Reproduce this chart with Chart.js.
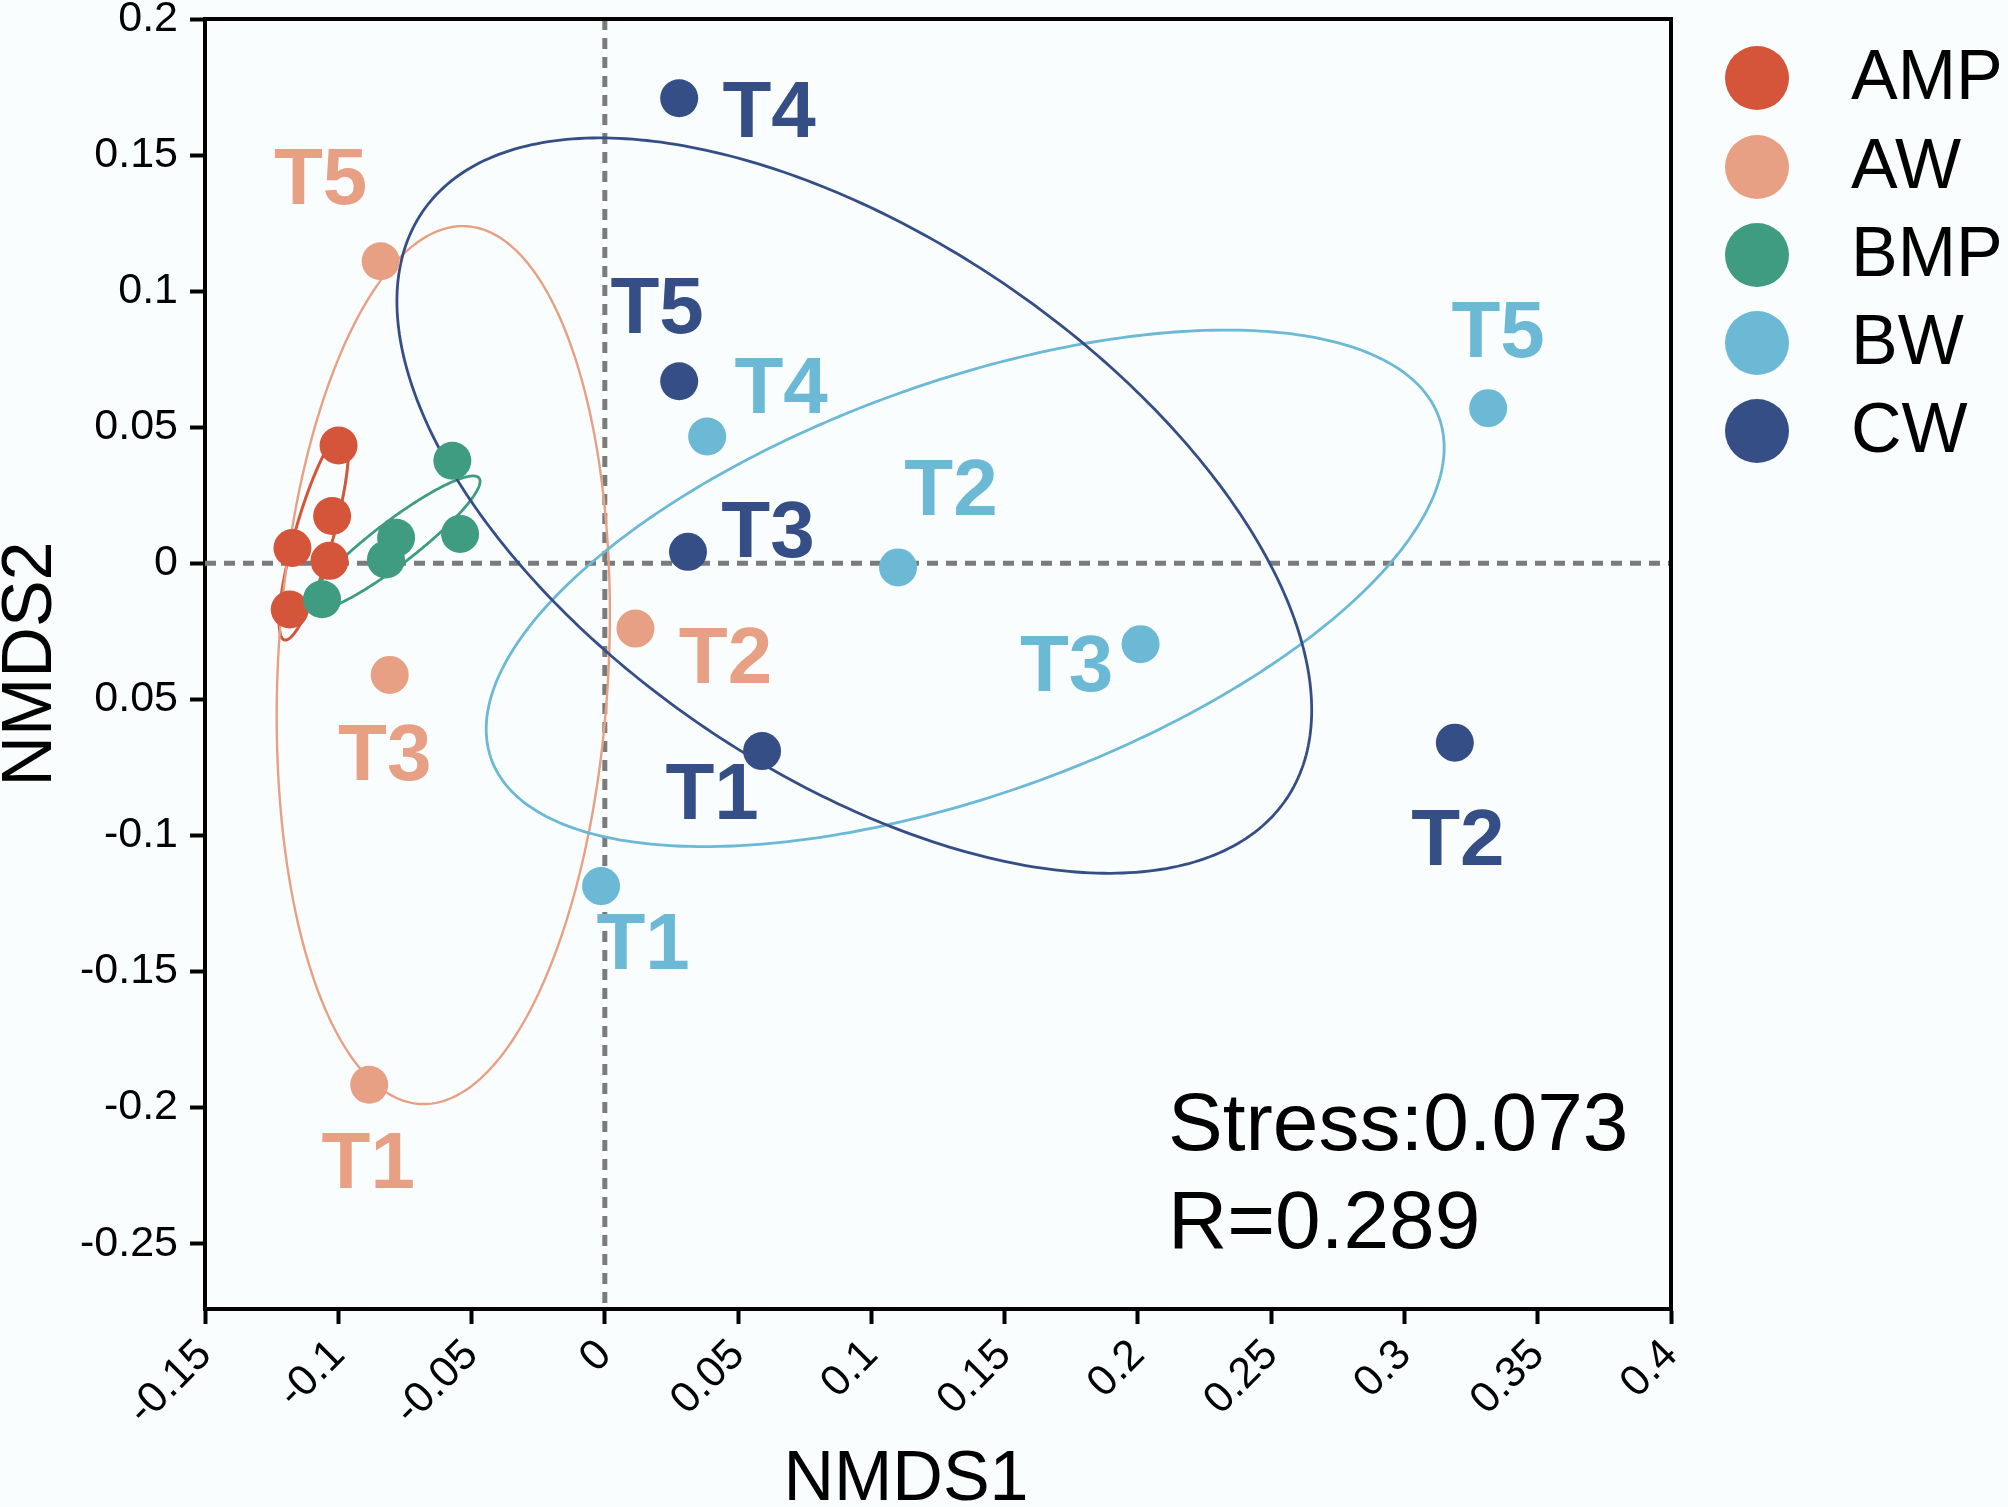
<!DOCTYPE html>
<html>
<head>
<meta charset="utf-8">
<script src="https://cdn.jsdelivr.net/npm/chart.js@4.4.0/dist/chart.umd.min.js"></script>
<style>
html, body { margin: 0; padding: 0; background: #F9FDFE; }
#wrap { width: 2008px; height: 1507px; }
</style>
</head>
<body>
<div id="wrap"><canvas id="nmds" width="2008" height="1507"></canvas></div>
<script>
// groups + colours
var groups = ['AMP', 'AW', 'BMP', 'BW', 'CW'];
var groupColors = ['#D4553A', '#E8A084', '#409C80', '#6CB9D5', '#354E85'];

// sample scores (NMDS1 / NMDS2)
var ampX = [-0.0999, -0.1023, -0.1172, -0.1033, -0.1182];
var ampY = [0.0433, 0.0174, 0.0056, 0.0009, -0.0170];
var ampLabels = ['', '', '', '', ''];

var awX = [-0.0884, 0.0115, -0.0807, -0.0841];
var awY = [-0.1916, -0.0240, -0.0410, 0.1110];
var awLabels = ['T1', 'T2', 'T3', 'T5'];

var bmpX = [-0.0572, -0.0783, -0.0821, -0.0543, -0.1061];
var bmpY = [0.0377, 0.0094, 0.0014, 0.0108, -0.0132];
var bmpLabels = ['', '', '', '', ''];

var bwX = [-0.0014, 0.1100, 0.2010, 0.0384, 0.3314];
var bwY = [-0.1186, -0.0015, -0.0297, 0.0466, 0.0570];
var bwLabels = ['T1', 'T2', 'T3', 'T4', 'T5'];

var cwX = [0.0590, 0.3189, 0.0312, 0.0279, 0.0279];
var cwY = [-0.0690, -0.0659, 0.0042, 0.1709, 0.0669];
var cwLabels = ['T1', 'T2', 'T3', 'T4', 'T5'];

// confidence ellipses per group: centre, spread and correlation (data units)
var ellipseCx = [-0.1092, -0.0606, -0.0794, 0.1352, 0.0936];
var ellipseCy = [0.0099, -0.0374, 0.0071, -0.0092, 0.0212];
var ellipseSx = [0.0130, 0.0625, 0.0326, 0.1797, 0.1716];
var ellipseSy = [0.0381, 0.1613, 0.0250, 0.0949, 0.1351];
var ellipseRho = [0.818, 0.117, 0.920, 0.545, -0.556];

// ticks
var xTickLabels = ['-0.15', '-0.1', '-0.05', '0', '0.05', '0.1', '0.15', '0.2', '0.25', '0.3', '0.35', '0.4'];
var yTickLabels = ['-0.25', '-0.2', '-0.15', '-0.1', '0.05', '0', '0.05', '0.1', '0.15', '0.2'];

var statLines = ['Stress:0.073', 'R=0.289'];

// label offsets from the point (px), style only
var labelOffsets = {
    AW: [[-1, 81], [90, 32], [-5, 83], [-60, -79]],
    BW: [[42, 61], [53, -74], [-74, 25], [74, -46], [10, -73]],
    CW: [[-50, 46], [3, 100], [80, -17], [90, 17], [-22, -70]]
};

var allX = [ampX, awX, bmpX, bwX, cwX];
var allY = [ampY, awY, bmpY, bwY, cwY];
var allLabels = [ampLabels, awLabels, bmpLabels, bwLabels, cwLabels];

var FONT = '"Liberation Sans", Arial, Helvetica, sans-serif';

var datasets = [];
for (var g = 0; g < groups.length; g++) {
    var pts = [];
    for (var i = 0; i < allX[g].length; i++) {
        pts.push({x: allX[g][i], y: allY[g][i]});
    }
    datasets.push({
        label: groups[g],
        data: pts,
        backgroundColor: groupColors[g],
        borderWidth: 0,
        pointRadius: 19,
        pointHoverRadius: 19,
        order: groups.length - g
    });
}

var nmdsPlugin = {
    id: 'nmdsExtras',
    beforeDatasetsDraw: function(chart) {
        var ctx = chart.ctx, a = chart.chartArea;
        var xs = chart.scales.x, ys = chart.scales.y;
        ctx.save();
        // zero lines
        ctx.strokeStyle = '#7b7b7b';
        ctx.lineWidth = 5;
        ctx.setLineDash([11, 8]);
        var x0 = xs.getPixelForValue(0), y0 = ys.getPixelForValue(0);
        ctx.beginPath();
        ctx.moveTo(x0, a.top); ctx.lineTo(x0, a.bottom);
        ctx.moveTo(a.left, y0); ctx.lineTo(a.right, y0);
        ctx.stroke();
        ctx.setLineDash([]);

        // ellipses
        var widths = [3, 2.4, 2.8, 2.8, 2.8];
        for (var g = 0; g < groups.length; g++) {
            var cx = ellipseCx[g], cy = ellipseCy[g];
            var sx = ellipseSx[g], sy = ellipseSy[g], r = ellipseRho[g];
            var q = Math.sqrt(1 - r * r);
            ctx.beginPath();
            for (var k = 0; k <= 360; k++) {
                var t = k * Math.PI / 180;
                var vx = cx + sx * Math.cos(t);
                var vy = cy + sy * (r * Math.cos(t) + q * Math.sin(t));
                var px = xs.getPixelForValue(vx), py = ys.getPixelForValue(vy);
                if (k === 0) ctx.moveTo(px, py); else ctx.lineTo(px, py);
            }
            ctx.closePath();
            ctx.strokeStyle = groupColors[g];
            ctx.lineWidth = widths[g];
            ctx.stroke();
        }
        ctx.restore();
    },
    afterDatasetsDraw: function(chart) {
        var ctx = chart.ctx, a = chart.chartArea;
        var xs = chart.scales.x, ys = chart.scales.y;
        ctx.save();

        // point labels
        ctx.font = 'bold 80px ' + FONT;
        ctx.textAlign = 'center';
        ctx.textBaseline = 'middle';
        for (var g = 0; g < groups.length; g++) {
            var offs = labelOffsets[groups[g]];
            if (!offs) continue;
            ctx.fillStyle = groupColors[g];
            for (var i = 0; i < allX[g].length; i++) {
                if (!allLabels[g][i]) continue;
                var px = xs.getPixelForValue(allX[g][i]);
                var py = ys.getPixelForValue(allY[g][i]);
                ctx.fillText(allLabels[g][i], px + offs[i][0], py + offs[i][1]);
            }
        }

        // top + right frame
        ctx.strokeStyle = '#000';
        ctx.lineWidth = 4;
        ctx.beginPath();
        ctx.moveTo(a.left - 2, a.top);
        ctx.lineTo(a.right, a.top);
        ctx.lineTo(a.right, a.bottom + 2);
        ctx.stroke();

        // stats text
        ctx.fillStyle = '#000';
        ctx.font = '82px ' + FONT;
        ctx.textAlign = 'left';
        ctx.textBaseline = 'alphabetic';
        ctx.fillText(statLines[0], 1168, 1150);
        ctx.fillText(statLines[1], 1168, 1248);

        // axis titles
        ctx.font = '70px ' + FONT;
        ctx.textAlign = 'center';
        ctx.textBaseline = 'middle';
        ctx.fillText('NMDS1', 906, 1481);
        ctx.save();
        ctx.translate(32, (a.top + a.bottom) / 2);
        ctx.rotate(-Math.PI / 2);
        ctx.fillText('NMDS2', 0, 0);
        ctx.restore();

        // legend
        ctx.font = '70px ' + FONT;
        ctx.textAlign = 'left';
        var legY = [78, 167, 255, 343, 431];
        for (var g = 0; g < groups.length; g++) {
            ctx.beginPath();
            ctx.arc(1757, legY[g], 32, 0, Math.PI * 2);
            ctx.fillStyle = groupColors[g];
            ctx.fill();
            ctx.fillStyle = '#000';
            ctx.fillText(groups[g], 1851, legY[g] + 2);
        }
        ctx.restore();
    }
};

var ctx = document.getElementById('nmds').getContext('2d');
var nmdsChart = new Chart(ctx, {
    type: 'scatter',
    data: {datasets: datasets},
    options: {
        responsive: false,
        animation: false,
        devicePixelRatio: 1,
        layout: {padding: {left: 0, top: 19, right: 337, bottom: 0}},
        plugins: {
            legend: {display: false},
            tooltip: {enabled: false}
        },
        scales: {
            x: {
                type: 'linear',
                min: -0.15,
                max: 0.4,
                afterFit: function(scale) {
                    scale.height = 198;
                    scale.paddingLeft = 0;
                    scale.paddingRight = 0;
                },
                border: {display: true, width: 4, color: '#000'},
                grid: {display: true, drawOnChartArea: false, drawTicks: true, tickLength: 15, tickWidth: 4, tickColor: '#000'},
                ticks: {
                    stepSize: 0.05,
                    minRotation: 45,
                    maxRotation: 45,
                    padding: 6,
                    color: '#000',
                    font: {size: 43, family: FONT},
                    callback: function(v, i) { return xTickLabels[i]; }
                }
            },
            y: {
                type: 'linear',
                min: -0.274,
                max: 0.2,
                afterFit: function(scale) {
                    scale.width = 205;
                    scale.paddingTop = 0;
                    scale.paddingBottom = 0;
                },
                border: {display: true, width: 4, color: '#000'},
                grid: {display: true, drawOnChartArea: false, drawTicks: true, tickLength: 15, tickWidth: 4, tickColor: '#000'},
                ticks: {
                    stepSize: 0.05,
                    includeBounds: false,
                    padding: 12,
                    color: '#000',
                    font: {size: 43, family: FONT},
                    callback: function(v, i) { return yTickLabels[i]; }
                }
            }
        }
    },
    plugins: [nmdsPlugin]
});
</script>
</body>
</html>
